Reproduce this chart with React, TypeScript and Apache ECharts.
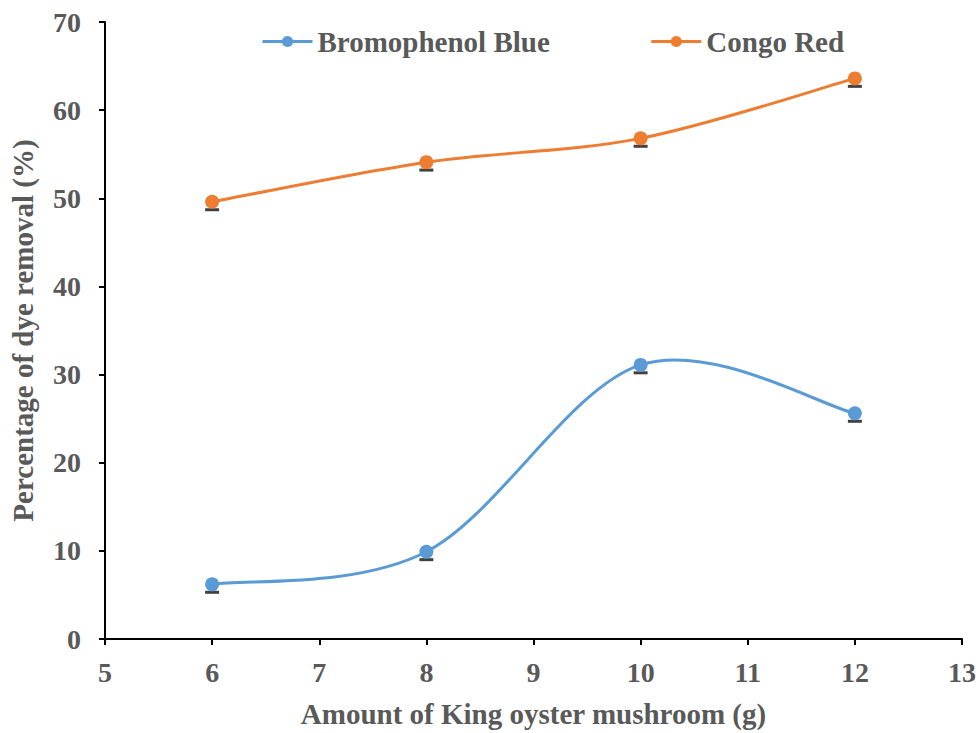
import React, { useEffect, useRef } from "react";
import * as echarts from "echarts";

const amounts = [6, 8, 10, 12];
const bromophenolBlue = [6.2, 9.9, 31.1, 25.6];
const congoRed = [49.6, 54.1, 56.8, 63.6];
const bromophenolErr = [0.9, 0.9, 0.9, 0.9];
const congoErr = [0.9, 0.9, 0.9, 0.9];
const xTicks = { min: 5, max: 13, step: 1 };
const yTicks = { min: 0, max: 70, step: 10 };

const FONT = "'Liberation Serif', 'Times New Roman', serif";
const GRAY = "#595959";
const BLUE = "#5B9BD5";
const ORANGE = "#ED7D31";

function errSeries(name: string, vals: number[], errs: number[]) {
  return {
    type: "custom",
    name: name + " err",
    z: 1,
    silent: true,
    data: amounts.map((x, i) => [x, vals[i], vals[i] - errs[i]]),
    renderItem: (params: any, api: any) => {
      const top = api.coord([api.value(0), api.value(1)]);
      const bot = api.coord([api.value(0), api.value(2)]);
      const w = 7;
      return {
        type: "group",
        children: [
          { type: "line", shape: { x1: top[0], y1: top[1], x2: bot[0], y2: bot[1] }, style: { stroke: "#404040", lineWidth: 1.5 } },
          { type: "line", shape: { x1: bot[0] - w, y1: bot[1], x2: bot[0] + w, y2: bot[1] }, style: { stroke: "#404040", lineWidth: 3 } },
        ],
      };
    },
  };
}

// Excel-like smoothed line (Catmull-Rom to Bezier) drawn through the axis scales
function curveSeries(name: string, vals: number[], color: string) {
  return {
    type: "custom",
    name: name + " curve",
    z: 2,
    silent: true,
    data: amounts.map((x, i) => [x, vals[i]]),
    renderItem: (params: any, api: any) => {
      const i = params.dataIndex;
      if (i >= amounts.length - 1) return { type: "group", children: [] };
      const pts = amounts.map((x, k) => api.coord([x, vals[k]]));
      const p0 = pts[Math.max(i - 1, 0)];
      const p1 = pts[i];
      const p2 = pts[i + 1];
      const p3 = pts[Math.min(i + 2, pts.length - 1)];
      const t = 1 / 6;
      return {
        type: "bezierCurve",
        shape: {
          x1: p1[0],
          y1: p1[1],
          cpx1: p1[0] + (p2[0] - p0[0]) * t,
          cpy1: p1[1] + (p2[1] - p0[1]) * t,
          cpx2: p2[0] - (p3[0] - p1[0]) * t,
          cpy2: p2[1] - (p3[1] - p1[1]) * t,
          x2: p2[0],
          y2: p2[1],
        },
        style: { stroke: color, lineWidth: 3, fill: "none" },
      };
    },
  };
}

export default function App() {
  const ref = useRef<HTMLDivElement>(null);
  useEffect(() => {
    document.body.style.margin = "0";
    const chart = echarts.init(ref.current!, null, { renderer: "svg" });
    chart.setOption({
      animation: false,
      backgroundColor: "#ffffff",
      grid: { left: 100, right: 15, top: 22, bottom: 91, containLabel: false },
      legend: {
        top: 22,
        left: 256,
        itemGap: 100,
        itemWidth: 50,
        itemHeight: 14,
        data: [
          { name: "Bromophenol Blue", lineStyle: { opacity: 1, width: 3, color: BLUE } },
          { name: "Congo Red", lineStyle: { opacity: 1, width: 3, color: ORANGE } },
        ],
        textStyle: { fontFamily: FONT, fontWeight: "bold", fontSize: 29, color: GRAY },
      },
      xAxis: {
        type: "value",
        min: xTicks.min,
        max: xTicks.max,
        interval: xTicks.step,
        name: "Amount of King oyster mushroom (g)",
        nameLocation: "middle",
        nameGap: 60,
        nameTextStyle: { fontFamily: FONT, fontWeight: "bold", fontSize: 29, color: GRAY },
        axisLine: { lineStyle: { color: "#000", width: 2 } },
        axisTick: { show: true, length: 6, lineStyle: { color: "#000", width: 2 } },
        axisLabel: { fontFamily: FONT, fontWeight: "bold", fontSize: 28, color: GRAY, margin: 19 },
        splitLine: { show: false },
      },
      yAxis: {
        type: "value",
        min: yTicks.min,
        max: yTicks.max,
        interval: yTicks.step,
        name: "Percentage of dye removal (%)",
        nameLocation: "middle",
        nameGap: 68,
        nameTextStyle: { fontFamily: FONT, fontWeight: "bold", fontSize: 29, color: GRAY },
        axisLine: { show: true, lineStyle: { color: "#000", width: 2 } },
        axisTick: { show: true, length: 6, lineStyle: { color: "#000", width: 2 } },
        axisLabel: { fontFamily: FONT, fontWeight: "bold", fontSize: 28, color: GRAY, margin: 24 },
        splitLine: { show: false },
      },
      series: [
        errSeries("Bromophenol Blue", bromophenolBlue, bromophenolErr),
        errSeries("Congo Red", congoRed, congoErr),
        curveSeries("Bromophenol Blue", bromophenolBlue, BLUE),
        curveSeries("Congo Red", congoRed, ORANGE),
        {
          name: "Bromophenol Blue",
          type: "line",
          z: 3,
          symbol: "circle",
          symbolSize: 14,
          color: BLUE,
          lineStyle: { width: 3, color: BLUE, opacity: 0 },
          itemStyle: { color: BLUE },
          data: amounts.map((x, i) => [x, bromophenolBlue[i]]),
        },
        {
          name: "Congo Red",
          type: "line",
          z: 3,
          symbol: "circle",
          symbolSize: 14,
          color: ORANGE,
          lineStyle: { width: 3, color: ORANGE, opacity: 0 },
          itemStyle: { color: ORANGE },
          data: amounts.map((x, i) => [x, congoRed[i]]),
        },
      ],
    });
    return () => chart.dispose();
  }, []);
  return <div ref={ref} style={{ width: 979, height: 733 }} />;
}
